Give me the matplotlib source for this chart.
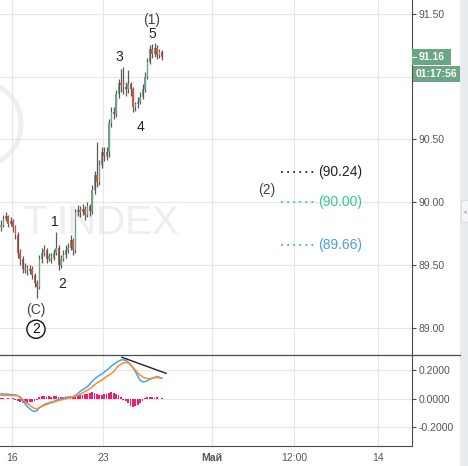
#!/usr/bin/env python3

import matplotlib
matplotlib.use("Agg")
import matplotlib.pyplot as plt
from matplotlib.patches import Rectangle, Arc

plt.rcParams['font.family'] = ['Liberation Sans', 'DejaVu Sans']

# ---- data ----
opens = [89.80, 89.82, 89.87, 89.89, 89.83, 89.85, 89.80, 89.74, 89.60, 89.55,
         89.47, 89.48, 89.45, 89.47, 89.42, 89.36, 89.33, 89.55, 89.60, 89.62,
         89.55, 89.57, 89.56, 89.60, 89.64, 89.50, 89.55, 89.58, 89.62, 89.64,
         89.70, 89.62, 89.92, 89.94, 89.92, 89.95, 89.90, 89.97, 89.93, 90.10,
         90.22, 90.16, 90.30, 90.40, 90.37, 90.40, 90.63, 90.72, 90.70, 90.86,
         90.95, 90.93, 90.92, 90.90, 90.94, 90.90, 90.76, 90.78, 90.80, 90.84,
         90.90, 91.00, 91.12, 91.22, 91.18, 91.23, 91.17, 91.20]
closes = [89.82, 89.87, 89.89, 89.83, 89.85, 89.80, 89.74, 89.60, 89.55, 89.47,
          89.48, 89.45, 89.47, 89.42, 89.36, 89.33, 89.55, 89.60, 89.62, 89.55,
          89.57, 89.56, 89.60, 89.64, 89.50, 89.55, 89.58, 89.62, 89.64, 89.70,
          89.62, 89.92, 89.94, 89.92, 89.95, 89.90, 89.97, 89.93, 90.10, 90.22,
          90.16, 90.30, 90.40, 90.37, 90.40, 90.63, 90.72, 90.70, 90.86, 90.95,
          90.93, 90.92, 90.90, 90.94, 90.90, 90.76, 90.78, 90.80, 90.84, 90.90,
          91.00, 91.12, 91.22, 91.18, 91.23, 91.17, 91.20, 91.16]
highs = [89.86, 89.90, 89.92, 89.90, 89.88, 89.87, 89.82, 89.76, 89.63, 89.57,
         89.52, 89.50, 89.50, 89.49, 89.44, 89.38, 89.58, 89.64, 89.66, 89.64,
         89.60, 89.60, 89.63, 89.76, 89.66, 89.58, 89.62, 89.66, 89.68, 89.74,
         89.72, 89.95, 89.98, 89.97, 89.99, 89.97, 90.00, 89.99, 90.14, 90.25,
         90.48, 90.34, 90.44, 90.44, 90.44, 90.66, 90.76, 90.76, 90.89, 90.98,
         91.06, 91.08, 90.96, 91.05, 90.96, 90.92, 90.80, 90.84, 90.88, 90.94,
         91.04, 91.15, 91.25, 91.26, 91.27, 91.25, 91.22, 91.21]
lows = [89.77, 89.80, 89.85, 89.80, 89.81, 89.76, 89.71, 89.56, 89.50, 89.44,
        89.44, 89.42, 89.43, 89.39, 89.33, 89.24, 89.31, 89.52, 89.57, 89.52,
        89.53, 89.52, 89.54, 89.58, 89.46, 89.48, 89.53, 89.56, 89.60, 89.62,
        89.58, 89.60, 89.89, 89.88, 89.90, 89.86, 89.88, 89.89, 89.91, 90.07,
        90.12, 90.14, 90.27, 90.33, 90.34, 90.36, 90.60, 90.66, 90.68, 90.83,
        90.88, 90.86, 90.85, 90.87, 90.85, 90.72, 90.73, 90.75, 90.78, 90.82,
        90.88, 90.98, 91.10, 91.15, 91.16, 91.14, 91.15, 91.13]

macd = [0.033, 0.032, 0.031, 0.030, 0.028, 0.027, 0.025, 0.020, 0.005, -0.018,
        -0.035, -0.058, -0.072, -0.085, -0.092, -0.085, -0.064, -0.055, -0.042, -0.036,
        -0.030, -0.025, -0.021, -0.014, -0.008, -0.002, 0.005, 0.008, 0.010, 0.012,
        0.012, 0.020, 0.035, 0.050, 0.062, 0.072, 0.083, 0.100, 0.122, 0.137,
        0.150, 0.162, 0.172, 0.186, 0.198, 0.212, 0.228, 0.240, 0.252, 0.263,
        0.271, 0.272, 0.268, 0.255, 0.240, 0.215, 0.190, 0.158, 0.128, 0.118,
        0.118, 0.125, 0.134, 0.142, 0.148, 0.155, 0.150, 0.142]
signal = [0.022, 0.022, 0.022, 0.022, 0.021, 0.021, 0.021, 0.020, 0.012, -0.005,
          -0.021, -0.035, -0.048, -0.060, -0.070, -0.072, -0.065, -0.058, -0.048, -0.042,
          -0.036, -0.030, -0.025, -0.020, -0.015, -0.010, -0.006, -0.002, 0.004, 0.008,
          0.012, 0.016, 0.021, 0.030, 0.040, 0.050, 0.057, 0.068, 0.082, 0.096,
          0.110, 0.120, 0.130, 0.142, 0.155, 0.165, 0.175, 0.190, 0.210, 0.230,
          0.240, 0.250, 0.254, 0.250, 0.235, 0.220, 0.200, 0.180, 0.165, 0.152,
          0.145, 0.140, 0.140, 0.143, 0.147, 0.148, 0.146, 0.141]
hist = [0.006, 0.005, -0.004, 0.005, -0.005, 0.004, -0.008, -0.016, -0.024, -0.030,
        -0.034, -0.030, -0.026, -0.022, -0.018, -0.012, 0.010, 0.016, 0.018, 0.014,
        0.016, 0.012, 0.020, 0.016, 0.010, 0.012, 0.014, 0.014, 0.012, 0.010,
        0.008, 0.016, 0.026, 0.028, 0.028, 0.032, 0.034, 0.040, 0.046, 0.040,
        0.032, 0.028, 0.026, 0.030, 0.034, 0.040, 0.046, 0.042, 0.032, 0.024,
        0.010, -0.008, -0.018, -0.034, -0.052, -0.062, -0.056, -0.044, -0.032, -0.018,
        0.006, 0.010, 0.008, 0.012, 0.006, 0.008, -0.005, 0.004]

# divergence line on the MACD panel (bar, value)
trend_x = [50.4, 68.8]
trend_y = [0.29, 0.177]

# wave labels: (bar, price, text)
wave_labels = [(62.9, 91.45, "(1)"), (62.9, 91.34, "5"), (49.2, 91.16, "3"),
               (58.0, 90.60, "4"), (22.5, 89.84, "1"), (25.4, 89.35, "2"),
               (14.6, 89.14, "(C)"), (110.9, 90.10, "(2)")]

# target levels
levels = [90.24, 90.00, 89.66]
level_colors = ['#222222', '#33C892', '#46A2DA']

price_ticks = [89.0, 89.5, 90.0, 90.5, 91.0, 91.5]
price_ticklabels = ['89.00', '89.50', '90.00', '90.50', '', '91.50']
macd_ticks = [-0.2, 0.0, 0.2]
time_ticks = [4.6, 42.5, 87.9, 122.1, 157.1]
time_ticklabels = ['16', '23', 'Май', '12:00', '14']

last_price = "91.16"
countdown = "01:17:56"

UP = '#6BA583'
DOWN = '#D75442'
WICK = '#5a5a5a'
GRID = '#e6e6e6'
AXC = '#4a4a4a'
TXT = '#555555'
MARK = '#eeeeee'

W, H = 468, 466


def px(x, y):
	# pixel position (from top-left) to figure fraction
	return x / W, 1 - y / H


def main():
	fig = plt.figure(figsize=(W / 100, H / 100), dpi=100)
	fig.patch.set_facecolor('white')

	x0, ysep = px(0, 355)
	xr, ybot = px(412, 446)
	ax = fig.add_axes([0, ysep, xr, 1 - ysep])
	ax2 = fig.add_axes([0, ybot, xr, ysep - ybot])

	xlim = (-0.4, 171.3)
	idx = list(range(len(closes)))

	# watermark (faint symbol text behind the candles)
	ax.add_patch(Arc(px(-14, 124), 70 / W, 80 / H, theta1=-90, theta2=90,
		transform=fig.transFigure, color=MARK, lw=3.5, zorder=0))
	ax.text(*px(22, 234), "T", transform=fig.transFigure, ha='left', va='baseline',
		fontsize=29, color=MARK, zorder=0)
	ax.text(*px(56, 234), "INDEX", transform=fig.transFigure, ha='left', va='baseline',
		fontsize=29, color=MARK, zorder=0)

	# candles
	for i in idx:
		o, c = opens[i], closes[i]
		col = UP if c >= o else DOWN
		ax.vlines(i, lows[i], highs[i], color=WICK, lw=0.9, zorder=2)
		ax.bar(i, abs(c - o) if abs(c - o) > 0.005 else 0.005, bottom=min(o, c),
			width=0.55, color=col, zorder=3, linewidth=0)

	# wave labels
	for bx, py, t in wave_labels:
		col = '#444444' if t.startswith('(') else '#222222'
		ax.text(bx, py, t, ha='center', va='center', fontsize=10, color=col, zorder=4)
	ax.text(14.6, 88.99, "2", ha='center', va='center', fontsize=10, color='#111111', zorder=4,
		bbox=dict(boxstyle='circle,pad=0.15', fc='white', ec='#111111', lw=1.0))

	# target levels
	for lv, col in zip(levels, level_colors):
		ax.plot([117.1, 130.0], [lv, lv], color=col, lw=1.5, ls=(0, (0.01, 2.9)),
			dash_capstyle='round', zorder=4)
		ax.text(132.0, lv, f"({lv:.2f})", ha='left', va='center', fontsize=10, color=col, zorder=4)

	ax.set_xlim(*xlim)
	ax.set_ylim(88.785, 91.61)
	ax.set_yticks(price_ticks)
	ax.set_yticklabels(price_ticklabels)
	ax.set_xticks(time_ticks)
	ax.tick_params(axis='x', length=0, labelbottom=False)

	# MACD panel
	ax2.bar(idx, hist, width=0.75, color='#F01E6E', linewidth=0, zorder=2)
	ax2.plot(idx, macd, color='#42A5F5', lw=1.1, zorder=3)
	ax2.plot(idx, signal, color='#FF8A2A', lw=1.1, zorder=3)
	ax2.plot(trend_x, trend_y, color='#222222', lw=1.0, zorder=4)
	ax2.set_xlim(*xlim)
	ax2.set_ylim(-0.334, 0.306)
	ax2.set_yticks(macd_ticks)
	ax2.set_yticklabels([f"{v:.4f}" for v in macd_ticks])
	ax2.set_xticks(time_ticks)
	ax2.set_xticklabels(time_ticklabels)
	for lab in ax2.get_xticklabels():
		if lab.get_text() == 'Май':
			lab.set_fontweight('bold')
			lab.set_color('#444444')
	ax2.tick_params(axis='x', length=0, pad=5, labelsize=7.5, colors=TXT)

	for a in (ax, ax2):
		a.set_facecolor('none')
		a.set_axisbelow(True)
		a.grid(True, color=GRID, lw=0.8)
		a.yaxis.tick_right()
		a.tick_params(axis='y', direction='out', length=3, width=0.8, color=AXC,
			labelsize=7.5, labelcolor=TXT, pad=2)
		for s in ('left', 'top', 'bottom'):
			a.spines[s].set_visible(False)
		a.spines['right'].set_color(AXC)
		a.spines['right'].set_linewidth(0.8)
	ax2.spines['bottom'].set_visible(True)
	ax2.spines['bottom'].set_color(AXC)
	ax2.spines['bottom'].set_linewidth(0.8)

	# panel separator
	fig.add_artist(plt.Line2D([0, 460 / W], [ysep, ysep], transform=fig.transFigure,
		color=AXC, lw=0.9))

	# right scroll strip
	fig.add_artist(Rectangle(px(460, 466), 8 / W, 1, transform=fig.transFigure,
		facecolor='#e9ecef', edgecolor='none'))
	fig.add_artist(Rectangle(px(461, 222), 7 / W, 22 / H, transform=fig.transFigure,
		facecolor='#f4f5f6', edgecolor='#d8dbde', lw=0.6))
	fig.text(*px(464.5, 212), "◂", ha='center', va='center', fontsize=5, color='#b0b4b8',
		family=['DejaVu Sans'])

	# last price and countdown labels
	fig.add_artist(Rectangle(px(412, 65), 39 / W, 16 / H, transform=fig.transFigure,
		facecolor=UP, edgecolor='none'))
	fig.add_artist(plt.Line2D([412 / W, 416 / W], [px(0, 57)[1]] * 2, transform=fig.transFigure,
		color='white', lw=0.8))
	fig.text(*px(431.5, 57), last_price, ha='center', va='center', fontsize=7.5,
		fontweight='bold', color='white')
	fig.add_artist(Rectangle(px(413, 82), 47 / W, 16 / H, transform=fig.transFigure,
		facecolor=UP, edgecolor='none'))
	fig.text(*px(436.5, 74), countdown, ha='center', va='center', fontsize=7.5,
		fontweight='bold', color='white')

	fig.savefig("out.png", dpi=100)


if __name__ == '__main__':
	main()
